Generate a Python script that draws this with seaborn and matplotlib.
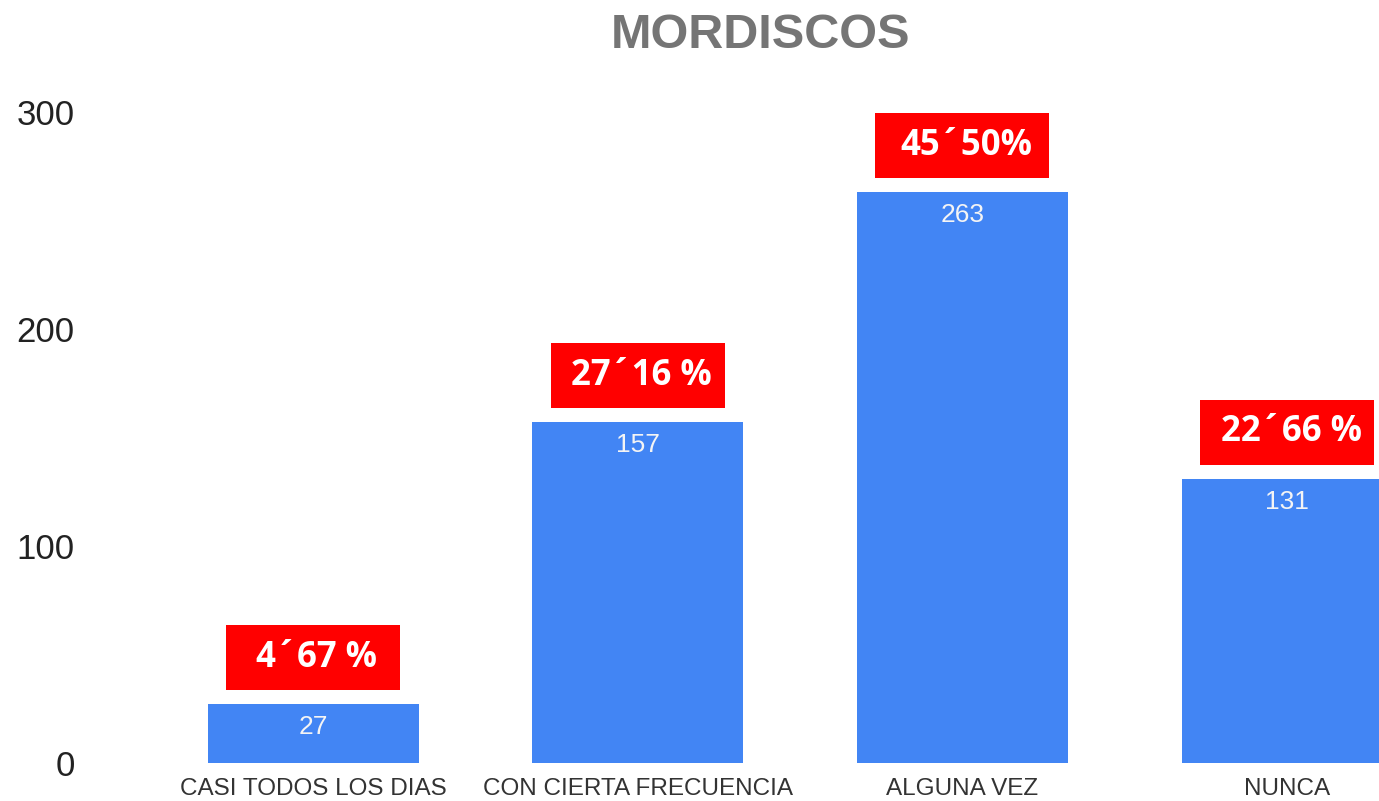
import matplotlib
matplotlib.use("Agg")
import matplotlib.pyplot as plt
import pandas as pd
import seaborn as sns
from matplotlib.patches import Rectangle


CATEGORIES = ["CASI TODOS LOS DIAS", "CON CIERTA FRECUENCIA", "ALGUNA VEZ", "NUNCA"]
COUNTS = [27, 157, 263, 131]
PERCENT_LABELS = ["4´67 %", "27´16 %", "45´50%", "22´66 %"]
Y_TICKS = [0, 100, 200, 300]

BAR_COLOR = "#4285F4"
BOX_COLOR = "#FF0000"


def main():
    sns.set_theme(style="white")
    plt.rcParams["font.family"] = ["Liberation Sans", "DejaVu Sans"]

    data = pd.DataFrame({"category": CATEGORIES, "count": COUNTS})

    fig = plt.figure(figsize=(13.79, 8.01), dpi=100)
    ax = fig.add_axes([90 / 1379, 38 / 801, 1289 / 1379, 651 / 801])

    sns.barplot(data=data, x="category", y="count", color=BAR_COLOR,
                saturation=1, width=0.65, linewidth=0, ax=ax)

    ax.set_xlim(-0.687, 3.283)
    ax.set_ylim(0, 300)
    ax.set_yticks(Y_TICKS)
    ax.set_xlabel("")
    ax.set_ylabel("")
    ax.tick_params(axis="y", labelsize=25, length=0, pad=11, labelcolor="#222222")
    ax.tick_params(axis="x", labelsize=17.5, length=0, pad=11, labelcolor="#333333")
    ax.grid(False)
    for side in ["top", "right", "left", "bottom"]:
        ax.spines[side].set_visible(False)

    # red percentage boxes, ~174 x 65 px, in data units
    box_w = 0.536
    box_h = 30
    gap = 6.5
    for bar, value, pct in zip(ax.patches, COUNTS, PERCENT_LABELS):
        cx = bar.get_x() + bar.get_width() / 2
        ax.text(cx, value - 10.5, str(value), ha="center", va="center",
                fontsize=19, color="#f4f4f4")
        ax.add_patch(Rectangle((cx - box_w / 2, value + gap), box_w, box_h,
                               facecolor=BOX_COLOR, edgecolor="none",
                               clip_on=False, zorder=3))
        ax.text(cx + 0.012, value + gap + box_h / 2, pct, ha="center", va="center",
                fontsize=25, fontweight="bold", color="white",
                family=["Open Sans", "DejaVu Sans"], zorder=4, clip_on=False)

    fig.text(760 / 1379, 1 - 36 / 801, "MORDISCOS", ha="center", va="center",
             fontsize=35, fontweight="bold", color="#757575")

    fig.savefig("out.png", dpi=100)
    plt.close(fig)


if __name__ == "__main__":
    main()
